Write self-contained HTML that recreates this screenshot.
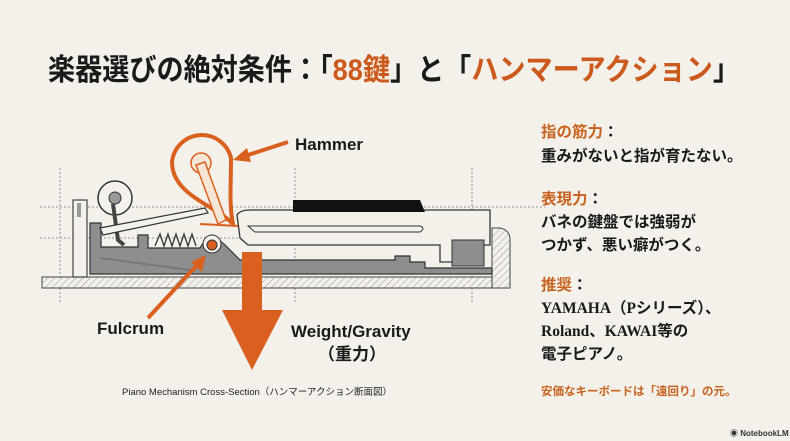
<!DOCTYPE html>
<html><head><meta charset="utf-8"><style>
html,body{margin:0;padding:0;background:#f3f1e9;}
svg{display:block;}
</style></head><body>
<svg width="790" height="441" viewBox="0 0 790 441" xmlns="http://www.w3.org/2000/svg" font-family="Liberation Sans, Noto Sans CJK JP, sans-serif">
<defs>
<pattern id="h" width="5" height="5" patternUnits="userSpaceOnUse" patternTransform="rotate(45)">
<rect width="5" height="5" fill="#f3f1e9"/><line x1="0" y1="0" x2="0" y2="5" stroke="#999" stroke-width="1"/>
</pattern>
</defs>
<rect width="790" height="441" fill="#f3f1e9"/>
<!-- title -->
<text x="48" y="80" font-size="30" font-weight="bold" fill="#1a1a1a" textLength="692" lengthAdjust="spacingAndGlyphs">楽器選びの絶対条件：「<tspan fill="#cc5a1c">88鍵</tspan>」と「<tspan fill="#cc5a1c">ハンマーアクション</tspan>」</text>

<!-- dotted guides -->
<g stroke="#777" stroke-width="0.8" stroke-dasharray="2,2" fill="none">
<line x1="40" y1="207" x2="545" y2="207"/>
<line x1="40" y1="238" x2="510" y2="238"/>
<line x1="60" y1="168" x2="60" y2="303"/>
<line x1="295" y1="168" x2="295" y2="303"/>
<line x1="472" y1="168" x2="472" y2="303"/>
</g>
<!-- base -->
<rect x="42" y="277" width="468" height="11" fill="url(#h)" stroke="#444" stroke-width="1"/>
<path d="M492 288 V228 H500 Q510 230 510 240 V288 Z" fill="url(#h)" stroke="#444"/>
<!-- left frame -->
<path d="M73 200 H87 V277 H73 Z" fill="#f3f1e9" stroke="#444" stroke-width="1.2"/>
<rect x="77" y="203" width="4" height="14" fill="#999"/>
<circle cx="115" cy="198" r="17" fill="#f3f1e9" stroke="#333" stroke-width="1.5"/>
<circle cx="115" cy="198" r="6" fill="#999" stroke="#333"/>
<path d="M113 204 L118 240 L124 245" stroke="#444" stroke-width="4" fill="none"/>
<!-- grey lever -->
<path d="M90 223 H101 V247 H138 V235 H148 V248 H200 Q210 230 225 245 L240 260 H395 V256 H410 V262 H425 V268 H492 V274 H90 Z" fill="#8e8e8e" stroke="#333" stroke-width="1.2"/>
<path d="M100 258 L190 270" stroke="#777" stroke-width="2"/>
<!-- spring -->
<polyline points="155,246 160,234 164,246 168,234 172,246 176,234 180,246 184,234 188,246 192,234 196,246" fill="none" stroke="#333" stroke-width="1.3"/>
<!-- long sticker -->
<path d="M100 228 L205 208 L208 213 L103 235 Z" fill="#f3f1e9" stroke="#333" stroke-width="1.2"/>
<!-- key -->
<path d="M237 215 Q240 210 250 210 H490 V245 H470 V262 H440 V245 H248 L240 238 Z" fill="#f3f1e9" stroke="#333" stroke-width="1.3"/>
<path d="M248 226 H420 Q426 228 420 232 H255 Z" fill="none" stroke="#333"/>
<path d="M293 200 H420 L425 212 H293 Z" fill="#111"/>
<rect x="452" y="240" width="32" height="26" fill="#8e8e8e" stroke="#333"/>
<!-- fulcrum -->
<circle cx="212" cy="244" r="9" fill="#f3f1e9" stroke="#333"/>
<circle cx="212" cy="245" r="5" fill="#d9601e" stroke="#333"/>
<!-- hammer -->
<path d="M233 224 C215 205 172 195 172 162 A30 30 0 0 1 231 158 C231 185 229 205 233 224 Z" fill="#f3f1e9" stroke="#d9601e" stroke-width="4" stroke-linejoin="round"/>
<circle cx="201" cy="163" r="10" fill="#f6e6d6" stroke="#d9601e" stroke-width="1.5"/>
<path d="M196 165 L205 162 L226 220 L218 224 Z" fill="#f6e6d6" stroke="#d9601e" stroke-width="1.5"/>
<line x1="200" y1="224" x2="238" y2="226" stroke="#d9601e" stroke-width="2"/>
<!-- weight arrow -->
<rect x="242" y="252" width="20" height="60" fill="#d9601e"/>
<path d="M222 310 H283 L252 370 Z" fill="#d9601e"/>
<!-- hammer arrow -->
<line x1="288" y1="142" x2="245" y2="156" stroke="#d9601e" stroke-width="4"/>
<path d="M233 160 L247 148 L251 162 Z" fill="#d9601e"/>
<!-- fulcrum arrow -->
<line x1="148" y1="318" x2="198" y2="264" stroke="#d9601e" stroke-width="4"/>
<path d="M206 255 L191 262 L202 272 Z" fill="#d9601e"/>
<!-- labels -->
<text x="295" y="150" font-size="17" font-weight="bold" fill="#1a1a1a">Hammer</text>
<text x="97" y="334" font-size="17" font-weight="bold" fill="#1a1a1a">Fulcrum</text>
<text x="291" y="337" font-size="17" font-weight="bold" fill="#1a1a1a">Weight/Gravity</text>
<text x="318" y="360" font-size="17" font-weight="bold" fill="#1a1a1a">（重力）</text>
<text x="122" y="395" font-size="9.5" fill="#222">Piano Mechanism Cross-Section（ハンマーアクション断面図）</text>
<!-- right text -->
<g font-size="15.5" font-weight="bold" fill="#1a1a1a">
<text x="541" y="137" fill="#c8621f">指の筋力<tspan fill="#1a1a1a">：</tspan></text>
<text x="541" y="161">重みがないと指が育たない。</text>
<text x="541" y="204" fill="#c8621f">表現力<tspan fill="#1a1a1a">：</tspan></text>
<text x="541" y="227">バネの鍵盤では強弱が</text>
<text x="541" y="250">つかず、悪い癖がつく。</text>
<text x="541" y="290" fill="#c8621f">推奨<tspan fill="#1a1a1a">：</tspan></text>
<text x="541" y="313" style="font-family:'Liberation Serif','Noto Sans CJK JP',serif">YAMAHA（Pシリーズ）、</text>
<text x="541" y="336" style="font-family:'Liberation Serif','Noto Sans CJK JP',serif">Roland、KAWAI等の</text>
<text x="541" y="359">電子ピアノ。</text>
</g>
<text x="541" y="395" font-size="11.5" font-weight="bold" fill="#c8621f">安価なキーボードは「遠回り」の元。</text>
<text x="730" y="436" font-size="8" font-weight="bold" fill="#333">◉ NotebookLM</text>
</svg>
</body></html>
